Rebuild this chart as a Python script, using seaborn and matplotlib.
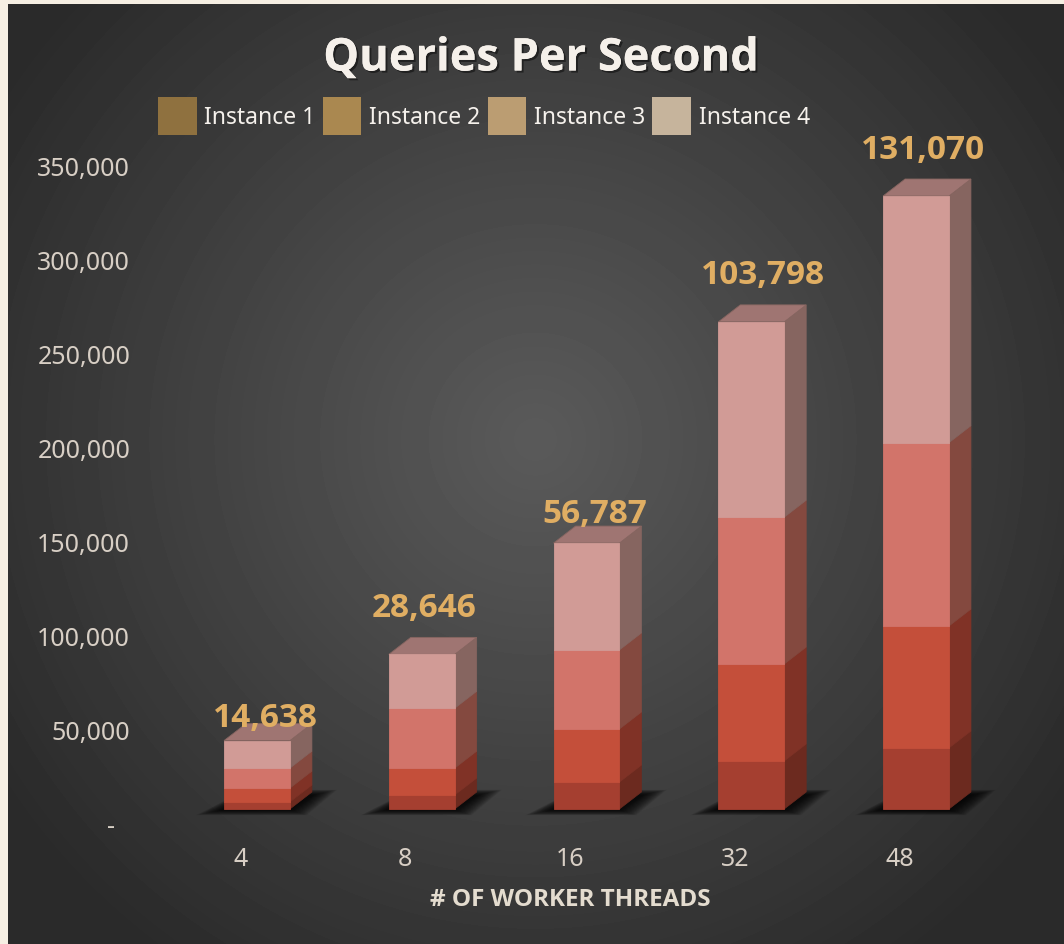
import numpy as np
import pandas as pd
import seaborn as sns
import matplotlib.pyplot as plt
import matplotlib.patheffects as pe
from matplotlib.patches import Patch, Polygon
from matplotlib.ticker import FixedFormatter, FixedLocator
from matplotlib.transforms import ScaledTranslation

# values
threads = ['4', '8', '16', '32', '48']
instance_1 = [3700, 7400, 14300, 25500, 32400]
instance_2 = [7400, 14300, 28200, 51500, 64800]
instance_3 = [10600, 31800, 42000, 78000, 97400]
instance_4 = [14638, 28646, 56787, 103798, 131070]
y_ticks = [0, 50000, 100000, 150000, 200000, 250000, 300000, 350000]
y_labels = ['-', '50,000', '100,000', '150,000', '200,000', '250,000', '300,000', '350,000']
instance_names = ['Instance 1', 'Instance 2', 'Instance 3', 'Instance 4']

# colours
front_colors = ['#a53f30', '#c44f3a', '#d2746a', '#d19b96']
side_colors = ['#6c2a1f', '#803226', '#84493f', '#866560']
top_color = '#9f7572'
legend_colors = ['#8f713f', '#aa8850', '#bb9d72', '#c6b49c']
gold = '#e0ae63'

W, H = 1064, 945
DPI = 100

sns.set_style('dark')
plt.rcParams['font.family'] = ['Noto Sans', 'DejaVu Sans']
bold_family = ['Open Sans', 'DejaVu Sans']

fig = plt.figure(figsize=(W / DPI, H / DPI), dpi=DPI, facecolor='#f6efe3')

# radial gradient background, inside the cream border
bg = fig.add_axes([8 / W, 0, (W - 8) / W, (H - 5) / H])
yy, xx = np.mgrid[5:H, 8:W]
dist = np.hypot((xx - 535) / 640, (yy - 440) / 640)
shade = 0x5a - (0x5a - 0x2a) * np.clip(dist, 0, 1) ** 1.05
bg.imshow(shade, cmap='gray', vmin=0, vmax=255, aspect='auto')
bg.axis('off')

# main axes, placed so that 0 sits on the bar floor
left, right, floor, top = 174.6, 998.4, 810, 151.2
ax = fig.add_axes([left / W, 1 - floor / H, (right - left) / W, (floor - top) / H])
ax.patch.set_alpha(0)

series = [instance_1, instance_2, instance_3, instance_4]
bar_width = 0.4
depth_x = 22 / 164.75
depth_y = 17 * 350000 / (floor - top)

# soft floor shadow under every bar
for i in range(len(threads)):
    x0, x1 = i - bar_width / 2, i + bar_width / 2
    for grow in np.linspace(1, 0, 20):
        gx = 0.17 * grow
        gy = 3000 * grow
        shadow = Polygon([(x0 - gx, -gy - 300), (x1 + gx * 0.6, -gy - 300),
                          (x1 + depth_x + gx * 0.9, depth_y * 0.8 + gy),
                          (x0 + depth_x, depth_y * 0.8 + gy)],
                         closed=True, facecolor='black', edgecolor='none', alpha=0.07,
                         clip_on=False, zorder=1)
        ax.add_patch(shadow)

base = np.zeros(len(threads))
for k, values in enumerate(series):
    df = pd.DataFrame({'threads': threads, 'qps': values})
    sns.barplot(data=df, x='threads', y='qps', order=threads, color=front_colors[k],
                saturation=1, width=bar_width, bottom=base, edgecolor=front_colors[k],
                linewidth=0.6, ax=ax, zorder=3, clip_on=False)
    # extrude each front face into side (and top) faces
    for patch in ax.containers[-1]:
        x1 = patch.get_x() + patch.get_width()
        y0 = patch.get_y()
        y1 = y0 + patch.get_height()
        ax.add_patch(Polygon([(x1, y0), (x1 + depth_x, y0 + depth_y),
                              (x1 + depth_x, y1 + depth_y), (x1, y1)],
                             closed=True, facecolor=side_colors[k], edgecolor=side_colors[k],
                             linewidth=0.5, clip_on=False, zorder=2))
        if k == len(series) - 1:
            x0 = patch.get_x()
            ax.add_patch(Polygon([(x0, y1), (x1, y1), (x1 + depth_x, y1 + depth_y),
                                  (x0 + depth_x, y1 + depth_y)],
                                 closed=True, facecolor=top_color, edgecolor='#866560',
                                 linewidth=0.6, clip_on=False, zorder=2))
    base = base + np.array(values)

# labels carry the Instance 4 value
label_lift = [23, 47, 30, 47, 46]
label_shift = [8.5, 2, 8.5, 11.5, 7.5]
for i, value in enumerate(instance_4):
    ax.annotate(f'{value:,}', (i, base[i]), xytext=(label_shift[i] / 1.389, label_lift[i] / 1.389),
                textcoords='offset points', ha='center', va='center', color=gold,
                fontsize=24, fontweight='bold', family=bold_family, zorder=6)

ax.set_xlim(-0.5, 4.5)
ax.set_ylim(0, 350000)
ax.yaxis.set_major_locator(FixedLocator(y_ticks))
ax.yaxis.set_major_formatter(FixedFormatter(y_labels))
ax.tick_params(axis='y', length=0, pad=32, labelsize=18, labelcolor='#d8cfc5')
ax.tick_params(axis='x', length=0, pad=26.5, labelsize=18, labelcolor='#d8cfc5')
ax.set_ylabel('')
ax.set_xlabel('')
ax.grid(False)
sns.despine(ax=ax, left=True, bottom=True)

# tick labels sit off the floor plane, as in a 3D chart
fig.canvas.draw()
down = ScaledTranslation(0, -15 / DPI, fig.dpi_scale_trans)
back = ScaledTranslation(-16.5 / DPI, 0, fig.dpi_scale_trans)
for lab in ax.get_yticklabels():
    lab.set_transform(lab.get_transform() + down)
for lab in ax.get_xticklabels():
    lab.set_transform(lab.get_transform() + back)
# the zero dash sits further left, accounting format style
zero_lab = ax.get_yticklabels()[0]
zero_lab.set_transform(zero_lab.get_transform() + ScaledTranslation(-15 / DPI, 0, fig.dpi_scale_trans))

fig.text(541 / W, 1 - 60 / H, 'Queries Per Second', ha='center', va='center', color='#f5f0ea',
         fontsize=32.5, fontweight='bold', family=bold_family,
         path_effects=[pe.withSimplePatchShadow(offset=(1.5, -1.5), shadow_rgbFace='black', alpha=0.45),
                       pe.Normal()])
fig.text(570 / W, 1 - 900 / H, '# OF WORKER THREADS', ha='center', va='center', color='#e4dccf',
         fontsize=17.5, fontweight='bold', family=bold_family)

handles = [Patch(facecolor=c, edgecolor='none', label=n) for c, n in zip(legend_colors, instance_names)]
fig.legend(handles=handles, loc='center', bbox_to_anchor=(484 / W, 1 - 117 / H), ncol=4, frameon=False,
           fontsize=16.5, labelcolor='#f5f1ec', handlelength=1.7, handleheight=2.24,
           handletextpad=0.34, columnspacing=0.3, borderpad=0, borderaxespad=0)

fig.savefig('out.png', dpi=DPI, facecolor=fig.get_facecolor())
